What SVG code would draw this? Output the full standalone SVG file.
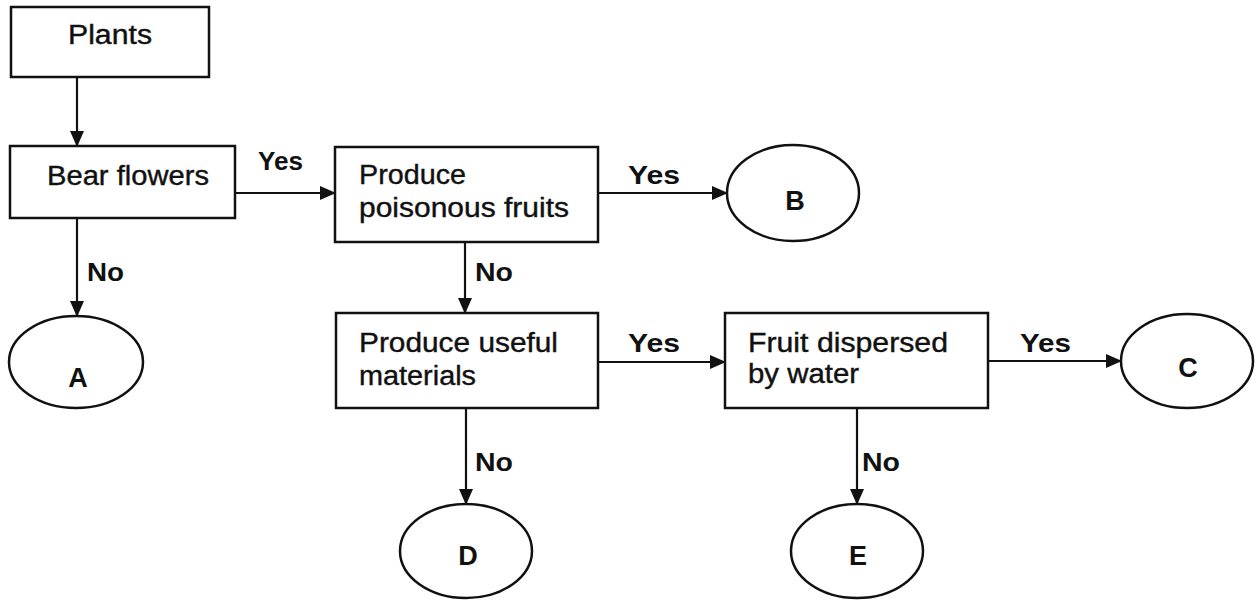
<svg xmlns="http://www.w3.org/2000/svg" width="1256" height="600" viewBox="0 0 1256 600">
<style>
.box{fill:#fff;stroke:#111;stroke-width:2.5}
.oval{fill:#fff;stroke:#111;stroke-width:2.5}
.t{font-family:"Liberation Sans",Arial,sans-serif;font-size:27px;fill:#111;stroke:#111;stroke-width:0.4}
.lb{font-family:"Liberation Sans",Arial,sans-serif;font-size:26px;font-weight:bold;fill:#111}
.ltr{font-family:"Liberation Sans",Arial,sans-serif;font-size:27px;font-weight:bold;fill:#111;text-anchor:middle}
.c{stroke:#111;stroke-width:2.2;fill:none;marker-end:url(#ah)}
</style>
<defs>
<marker id="ah" markerWidth="16" markerHeight="14" refX="15" refY="7" orient="auto" markerUnits="userSpaceOnUse">
<path d="M0,0 L16,7 L0,14 Z" fill="#111"/>
</marker>
</defs>
<rect width="1256" height="600" fill="#fff"/>
<g id="connectors">
<line class="c" x1="77" y1="77" x2="77" y2="146"/>
<line class="c" x1="235" y1="193" x2="335" y2="193"/>
<line class="c" x1="77" y1="218" x2="77" y2="316"/>
<line class="c" x1="598" y1="193" x2="727" y2="193"/>
<line class="c" x1="465" y1="242" x2="465" y2="313"/>
<line class="c" x1="598" y1="362" x2="725" y2="362"/>
<line class="c" x1="988" y1="361" x2="1121" y2="361"/>
<line class="c" x1="466" y1="408" x2="466" y2="504"/>
<line class="c" x1="857" y1="408" x2="857" y2="504"/>
<text class="lb" x="258" y="170" textLength="45" lengthAdjust="spacingAndGlyphs">Yes</text>
<text class="lb" x="87" y="281" textLength="37" lengthAdjust="spacingAndGlyphs">No</text>
<text class="lb" x="628" y="184" textLength="52" lengthAdjust="spacingAndGlyphs">Yes</text>
<text class="lb" x="475" y="281" textLength="38" lengthAdjust="spacingAndGlyphs">No</text>
<text class="lb" x="628" y="352" textLength="52" lengthAdjust="spacingAndGlyphs">Yes</text>
<text class="lb" x="1020" y="352" textLength="51" lengthAdjust="spacingAndGlyphs">Yes</text>
<text class="lb" x="475" y="471" textLength="38" lengthAdjust="spacingAndGlyphs">No</text>
<text class="lb" x="862" y="471" textLength="38" lengthAdjust="spacingAndGlyphs">No</text>
</g>
<g id="plants">
<rect class="box" x="11" y="7" width="198" height="70"/>
<text class="t" x="68" y="44" textLength="84" lengthAdjust="spacingAndGlyphs">Plants</text>
</g>
<g id="bear-flowers">
<rect class="box" x="10" y="146" width="225" height="72"/>
<text class="t" x="47" y="185" textLength="162" lengthAdjust="spacingAndGlyphs">Bear flowers</text>
</g>
<g id="poisonous">
<rect class="box" x="335" y="147" width="263" height="95"/>
<text class="t" x="359" y="184" textLength="107" lengthAdjust="spacingAndGlyphs">Produce</text>
<text class="t" x="359" y="217" textLength="210" lengthAdjust="spacingAndGlyphs">poisonous fruits</text>
</g>
<g id="useful">
<rect class="box" x="336" y="313" width="262" height="95"/>
<text class="t" x="359" y="352" textLength="199" lengthAdjust="spacingAndGlyphs">Produce useful</text>
<text class="t" x="359" y="385" textLength="117" lengthAdjust="spacingAndGlyphs">materials</text>
</g>
<g id="water">
<rect class="box" x="725" y="313" width="263" height="95"/>
<text class="t" x="748" y="352" textLength="200" lengthAdjust="spacingAndGlyphs">Fruit dispersed</text>
<text class="t" x="748" y="383" textLength="111" lengthAdjust="spacingAndGlyphs">by water</text>
</g>
<g id="A">
<ellipse class="oval" cx="76" cy="362" rx="67" ry="46"/>
<text class="ltr" x="78" y="387">A</text>
</g>
<g id="B">
<ellipse class="oval" cx="793" cy="193" rx="66" ry="48"/>
<text class="ltr" x="795" y="210">B</text>
</g>
<g id="C">
<ellipse class="oval" cx="1187" cy="361" rx="66" ry="47"/>
<text class="ltr" x="1188" y="377">C</text>
</g>
<g id="D">
<ellipse class="oval" cx="466" cy="551" rx="66" ry="47"/>
<text class="ltr" x="468" y="565">D</text>
</g>
<g id="E">
<ellipse class="oval" cx="857" cy="551" rx="66" ry="47"/>
<text class="ltr" x="858" y="565">E</text>
</g>
</svg>
